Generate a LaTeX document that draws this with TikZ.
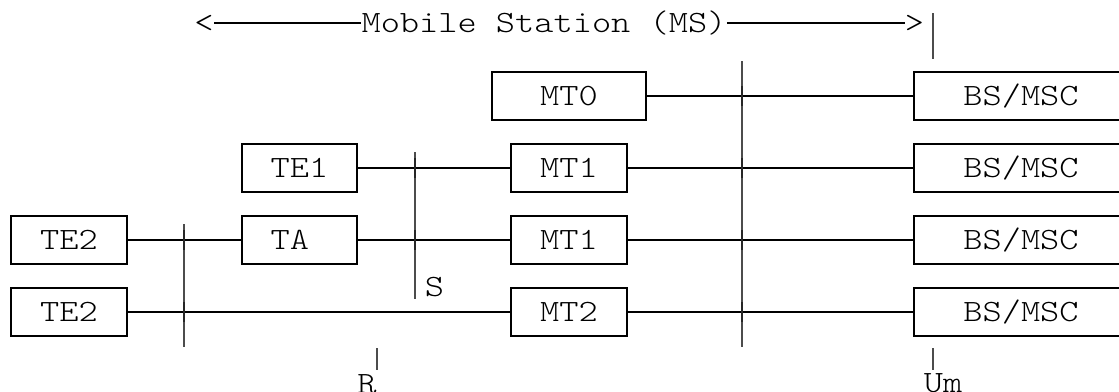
\documentclass[tikz,border=0pt]{standalone}
\usepackage{fontspec}
\setmonofont{lmmonolt10-regular.otf}[FakeStretch=1.18]
\begin{document}
\begin{tikzpicture}[x=0.5pt, y=-0.5pt]
            \tikzset{box/.style = {shape=rectangle,draw,line width=1pt,minimum height=24pt,inner sep=0pt,font=\ttfamily\fontsize{15.5}{18}\selectfont,text height=9.4pt,text depth=0pt}}
            \tikzset{lbl/.style = {inner sep=0pt,font=\ttfamily\fontsize{15.5}{18}\selectfont,text height=9.4pt,text depth=0pt}}
            \tikzset{link/.style = {-,line width=1pt}}
            \tikzset{iface/.style = {-,line width=0.7pt,black!70}}
            \tikzset{cross/.style = {-,line width=1.1pt,black!85}}

            \useasboundingbox (0,0) rectangle (1119,391);

            \node[lbl] (lt) at (204, 23) {<};
            \node[lbl] (ms) at (544, 23) {Mobile Station (MS)};
            \node[lbl] (rt) at (914.5, 23) {>};

            \node[box,minimum width=77pt] (mt0) at (569, 96) {MT0};

            \node[box,minimum width=57.5pt] (te1) at (299.5, 168) {TE1};
            \node[box,minimum width=58pt] (mt1a) at (569, 168) {MT1};

            \node[box,minimum width=58pt] (te2a) at (69, 240) {TE2};
            \node[box,minimum width=57.5pt] (ta) at (299.5, 240) {TA\hphantom{1}};
            \node[box,minimum width=58pt] (mt1b) at (569, 240) {MT1};

            \node[box,minimum width=58pt] (te2b) at (69, 312) {TE2};
            \node[box,minimum width=58pt] (mt2) at (569, 312) {MT2};

            \node[box,minimum width=107pt] (bs0) at (1021, 96) {BS/MSC};
            \node[box,minimum width=107pt] (bs1) at (1021, 168) {BS/MSC};
            \node[box,minimum width=107pt] (bs2) at (1021, 240) {BS/MSC};
            \node[box,minimum width=107pt] (bs3) at (1021, 312) {BS/MSC};

            \coordinate (r1) at (184, 224);
            \coordinate (r2) at (184, 347);
            \coordinate (s1) at (415, 152);
            \coordinate (s2) at (415, 299);
            \coordinate (u1) at (742, 61);
            \coordinate (u2) at (742, 347);
            \coordinate (m1) at (933, 13);
            \coordinate (m2) at (933, 59);
            \coordinate (rk1) at (377, 348);
            \coordinate (rk2) at (377, 370);
            \coordinate (uk1) at (933, 348);
            \coordinate (uk2) at (933, 370);

            \node[lbl] (s) at (434.5, 287) {S};
            \node[lbl] (r) at (367, 384) {R};
            \node[lbl] (um) at (943, 383) {Um};

            \draw[iface] (r1) to (r2);
            \draw[iface] (s1) to (s2);
            \draw[iface] (u1) to (u2);
            \draw[iface] (m1) to (m2);
            \draw[iface] (rk1) to (rk2);
            \draw[iface] (uk1) to (uk2);

            \draw[link] (lt) to (ms);
            \draw[link] (ms) to (rt);

            \draw[link] (mt0) to (bs0);
            \draw[link] (te1) to (mt1a);
            \draw[link] (mt1a) to (bs1);
            \draw[link] (te2a) to (ta);
            \draw[link] (ta) to (mt1b);
            \draw[link] (mt1b) to (bs2);
            \draw[link] (te2b) to (mt2);
            \draw[link] (mt2) to (bs3);

            \foreach \x/\y in {184/240, 184/312, 415/168, 415/240, 742/96, 742/168, 742/240, 742/312}
                \draw[cross] (\x, \y-10) -- (\x, \y+10);
          \end{tikzpicture}
\end{document}
